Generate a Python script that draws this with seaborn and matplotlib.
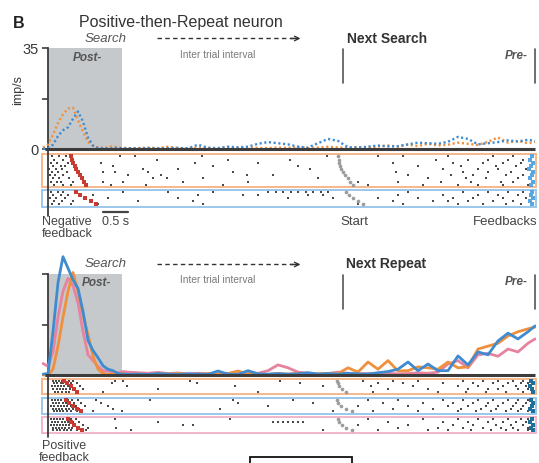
import numpy as np
import pandas as pd
import matplotlib
matplotlib.use("Agg")
import matplotlib.pyplot as plt
import matplotlib.transforms as mtransforms
from matplotlib.patches import Rectangle
from matplotlib.lines import Line2D
import seaborn as sns

sns.set_style("white")
plt.rcParams["font.family"] = ["Liberation Sans", "DejaVu Sans"]

# ---------------- firing rates (imp/s), time in s from feedback ----------------
t_rate = np.r_[-0.1, np.round(np.arange(0.0, 1.65, 0.1), 2),
               np.round(np.arange(1.8, 9.65, 0.2), 2), 9.74]

neg_orange = ([0.5] +
              [1.5, 5.0, 9.0, 12.0, 14.0, 14.3, 10.0, 6.0, 2.5, 1.0, 0.5, 0.3, 0.6, 1.0, 0.5, 0.4, 0.3] +
              [0.3, 0.5, 0.3, 0.8, 0.3, 0.2, 0.5, 0.4, 0.3, 0.6,
               0.3, 0.5, 0.4, 0.3, 0.5, 0.4, 0.6, 0.3, 0.5, 0.8,
               0.5, 0.4, 0.7, 0.5, 0.9, 1.2, 0.8, 1.5, 1.0, 1.8,
               1.2, 1.5, 2.2, 1.8, 1.4, 2.5, 4.0, 2.2, 2.8, 2.0] +
              [2.5])
neg_blue = ([0.0] +
            [0.3, 1.5, 4.5, 6.5, 7.5, 10.5, 13.0, 9.5, 4.0, 1.2, 0.4, 0.3, 0.2, 0.3, 0.4, 0.2, 0.3] +
            [0.2, 0.3, 0.2, 0.3, 0.4, 0.2, 1.5, 0.4, 0.3, 0.8,
             0.6, 0.8, 1.8, 2.4, 2.0, 1.6, 0.8, 0.5, 2.0, 3.5,
             2.8, 0.6, 0.5, 0.8, 1.2, 0.9, 1.0, 1.6, 2.2, 2.0,
             1.8, 2.5, 4.2, 3.5, 1.6, 2.0, 2.4, 3.0, 2.6, 3.2] +
            [2.8])

pos_blue = ([0.3] +
            [0.5, 15.0, 32.0, 41.0, 37.0, 33.0, 30.0, 22.0, 12.0, 8.5, 6.0, 3.2, 2.0, 1.5, 0.5, 0.3, 0.2] +
            [0.3, 0.2, 0.5, 0.3, 0.2, 0.4, 0.3, 0.2, 1.4, 0.3,
             0.2, 1.5, 0.4, 0.3, 0.5, 0.3, 0.4, 0.8, 0.3, 0.5,
             0.3, 0.6, 0.4, 0.3, 0.8, 1.2, 2.0, 4.5, 1.5, 3.8,
             1.5, 1.5, 6.6, 3.5, 8.0, 7.0, 11.8, 14.5, 12.5, 15.0] +
            [17.0])
pos_orange = ([0.0] +
              [0.0, 2.0, 10.0, 20.0, 29.0, 35.5, 29.0, 21.0, 14.0, 6.6, 2.0, 0.5, 0.2, 0.3, 0.5, 0.3, 0.2] +
              [0.3, 0.2, 0.4, 0.3, 0.5, 0.3, 0.2, 0.4, 0.3, 0.5,
               1.4, 0.3, 0.4, 0.2, 0.5, 0.3, 0.6, 0.4, 0.3, 0.5,
               0.5, 2.5, 1.0, 4.5, 2.0, 5.0, 1.4, 1.5, 2.8, 2.5,
               2.0, 4.5, 2.5, 2.8, 9.0, 10.0, 11.0, 13.5, 15.0, 16.0] +
              [16.6])
pos_pink = ([4.0] +
            [3.0, 8.0, 20.0, 29.0, 33.5, 31.0, 25.0, 15.0, 7.0, 5.0, 3.0, 1.5, 1.4, 1.0, 0.8, 1.2, 1.0] +
            [0.8, 0.6, 0.9, 0.5, 0.7, 0.4, 0.6, 0.5, 0.4, 0.6,
             0.5, 0.7, 0.6, 1.5, 3.5, 2.5, 1.0, 0.6, 0.4, 0.5,
             1.0, 0.6, 0.4, 0.5, 0.3, 0.6, 0.4, 0.5, 0.8, 0.6,
             1.0, 3.8, 5.0, 2.5, 7.0, 7.5, 6.5, 9.0, 8.0, 11.0] +
            [12.5])

# ---------------- rasters: spike times (s) per trial ----------------
neg_orange_trials = [
    [0.08, 0.22, 0.35, 1.44, 1.74, 3.08, 5.58, 6.6, 7.1, 8.0, 8.9, 9.3],
    [0.12, 0.3, 2.18, 3.6, 4.84, 7.75, 8.4, 8.8, 9.2, 9.5],
    [0.05, 0.18, 0.4, 1.05, 2.94, 4.2, 6.9, 8.1, 8.7, 9.1, 9.45],
    [0.1, 0.25, 0.33, 1.3, 3.3, 5.0, 7.4, 8.25, 8.95, 9.35],
    [0.02, 0.15, 0.28, 0.55, 1.9, 2.6, 5.24, 7.9, 8.6, 9.0, 9.55],
    [0.08, 0.2, 0.38, 1.1, 1.34, 2.0, 3.7, 6.95, 8.3, 8.8, 9.25],
    [0.04, 0.14, 0.3, 1.6, 2.25, 3.98, 4.5, 7.2, 8.05, 8.5, 9.15, 9.5],
    [0.1, 0.22, 0.42, 2.1, 2.38, 3.1, 5.4, 7.6, 8.35, 8.75, 9.4],
    [0.06, 0.18, 0.26, 0.5, 1.1, 1.5, 2.7, 4.0, 6.2, 7.0, 7.85, 8.45, 9.05, 9.3],
    [0.12, 0.3, 0.45, 1.25, 1.95, 3.5, 6.4, 7.5, 8.2, 8.6, 9.1, 9.6],
]
neg_orange_fb = [0.46, 0.48, 0.5, 0.53, 0.56, 0.6, 0.64, 0.68, 0.72, 0.76]
neg_orange_start = [5.8, 5.81, 5.82, 5.84, 5.86, 5.9, 5.94, 5.99, 6.04, 6.1]
neg_orange_next = [9.68, 9.64, 9.7, 9.66, 9.62, 9.7, 9.67, 9.64, 9.69, 9.66]

neg_blue_trials = [
    [0.05, 0.2, 0.3, 1.5, 2.4, 3.3, 4.4, 4.55, 4.7, 4.85, 5.0, 5.15, 5.3, 5.45, 5.6, 7.2, 8.3, 8.8, 9.2, 9.5],
    [0.1, 0.25, 0.4, 0.9, 3.0, 3.9, 4.2, 5.2, 5.5, 7.0, 7.9, 8.6, 9.0, 9.4],
    [0.03, 0.15, 0.33, 1.2, 2.6, 4.8, 5.7, 6.6, 7.4, 8.1, 8.5, 9.1, 9.55],
    [0.12, 0.28, 0.5, 1.8, 2.9, 6.9, 7.7, 8.0, 8.4, 8.9, 9.3],
    [0.08, 0.22, 0.45, 1.0, 3.1, 6.2, 7.1, 8.2, 8.7, 9.15, 9.45],
]
neg_blue_fb = [0.55, 0.64, 0.74, 0.85, 0.96]
neg_blue_start = [5.96, 6.02, 6.1, 6.2, 6.3]
neg_blue_next = [9.68, 9.66, 9.7, 9.64, 9.68]

pos_orange_trials = [
    [0.1, 0.16, 0.22, 0.28, 0.34, 0.42, 0.5, 1.34, 1.5, 2.84, 4.64, 6.3, 6.9, 7.4, 8.3, 8.7, 9.0, 9.3, 9.5],
    [0.12, 0.18, 0.25, 0.3, 0.38, 0.46, 0.58, 1.28, 2.98, 5.04, 6.6, 7.1, 7.9, 8.5, 8.9, 9.2, 9.45, 9.6],
    [0.08, 0.14, 0.2, 0.26, 0.32, 0.4, 0.48, 0.64, 1.58, 3.74, 5.5, 6.45, 7.3, 8.2, 8.6, 9.1, 9.35, 9.55],
    [0.1, 0.17, 0.24, 0.3, 0.36, 0.44, 0.52, 0.7, 2.2, 6.8, 7.6, 8.4, 8.8, 9.0, 9.4, 9.6],
    [0.13, 0.2, 0.27, 0.35, 0.41, 0.55, 1.1, 4.2, 6.5, 7.8, 8.35, 8.75, 9.15, 9.5],
]
pos_orange_fb = [0.32, 0.38, 0.45, 0.52, 0.58]
pos_orange_start = [5.78, 5.79, 5.82, 5.88, 5.96]
pos_orange_next = [9.66, 9.7, 9.64, 9.68, 9.7]

pos_blue_trials = [
    [0.08, 0.14, 0.2, 0.26, 0.33, 0.4, 0.48, 0.6, 0.95, 2.04, 3.7, 4.9, 6.4, 7.0, 7.9, 8.3, 8.6, 8.9, 9.2, 9.4, 9.6],
    [0.1, 0.16, 0.22, 0.3, 0.36, 0.44, 0.52, 0.66, 1.05, 3.8, 5.3, 6.7, 7.5, 8.1, 8.5, 8.8, 9.1, 9.35, 9.55],
    [0.06, 0.12, 0.19, 0.25, 0.31, 0.38, 0.46, 0.56, 0.74, 1.2, 4.4, 6.2, 7.2, 8.0, 8.4, 8.75, 9.0, 9.3, 9.5],
    [0.09, 0.15, 0.21, 0.28, 0.35, 0.42, 0.5, 0.62, 1.3, 3.44, 6.9, 7.7, 8.25, 8.65, 8.95, 9.25, 9.45, 9.62],
    [0.11, 0.18, 0.24, 0.3, 0.37, 0.45, 0.58, 0.9, 1.48, 5.7, 6.5, 7.4, 8.2, 8.55, 8.85, 9.15, 9.4, 9.6],
]
pos_blue_fb = [0.36, 0.42, 0.5, 0.58, 0.66]
pos_blue_start = [5.78, 5.8, 5.86, 5.96, 6.08]
pos_blue_next = [9.66, 9.7, 9.68, 9.64, 9.7]

pos_pink_trials = [
    [0.05, 0.12, 0.18, 0.24, 0.3, 0.37, 0.45, 0.55, 1.34, 3.64, 6.4, 7.5, 8.2, 8.6, 8.9, 9.2, 9.45, 9.6],
    [0.08, 0.14, 0.2, 0.27, 0.33, 0.4, 0.5, 0.62, 2.2, 4.5, 4.6, 4.7, 4.8, 4.9, 5.0, 5.1, 6.8, 7.9, 8.4, 8.8, 9.1, 9.35, 9.55],
    [0.06, 0.11, 0.17, 0.23, 0.29, 0.35, 0.42, 0.52, 0.7, 2.7, 2.9, 6.2, 7.2, 8.1, 8.5, 8.95, 9.25, 9.5],
    [0.09, 0.16, 0.22, 0.28, 0.34, 0.41, 0.48, 0.6, 0.8, 1.36, 7.0, 7.8, 8.3, 8.7, 9.05, 9.3, 9.6],
    [0.1, 0.17, 0.24, 0.31, 0.38, 0.46, 0.58, 0.75, 1.66, 5.5, 6.6, 7.6, 8.0, 8.45, 8.85, 9.15, 9.4, 9.6],
]
pos_pink_fb = [0.4, 0.46, 0.52, 0.6, 0.68]
pos_pink_start = [5.8, 5.82, 5.88, 5.96, 6.08]
pos_pink_next = [9.68, 9.64, 9.7, 9.66, 9.7]

# ---------------- styling ----------------
C_ORANGE = "#f0903c"
C_BLUE = "#3f8bd0"
C_PINK = "#e7829f"
BOX_ORANGE = "#f6b88a"
BOX_BLUE = "#9cc6ea"
BOX_PINK = "#f2b6c9"
C_AXIS = "#3c3c3c"
C_TEXT = "#3a3a3a"
C_SHADE = "#c6c9cb"

W, H = 539, 464
fig = plt.figure(figsize=(W / 100, H / 100), dpi=100)

T0_PX, PX_PER_S = 48, 50.0
X_LEFT, X_RIGHT = 42, 536
XLIM = ((X_LEFT - T0_PX) / PX_PER_S, (X_RIGHT - T0_PX) / PX_PER_S)
PX_PER_UNIT = 101 / 35.0
YMIN, YMAX = -1.0, 45.0


def fx(x):
    return x / W


def fy(y):
    return 1 - y / H


def axes_px(left, top, right, bottom):
    return fig.add_axes([fx(left), fy(bottom), (right - left) / W, (bottom - top) / H])


def rate_panel(zero_px, series, dotted, show_labels):
    top = zero_px - YMAX * PX_PER_UNIT
    bottom = zero_px - YMIN * PX_PER_UNIT
    ax = axes_px(X_LEFT, top, X_RIGHT, bottom)
    ax.set_facecolor("none")
    ax.set_xlim(*XLIM)
    ax.set_ylim(YMIN, YMAX)
    # Post-feedback window
    ax.fill_between([0, 1.48], 0, 35, color=C_SHADE, lw=0, zorder=0)
    for vals, col in series:
        if dotted:
            sns.lineplot(x=t_rate, y=vals, ax=ax, color=col, lw=1.7,
                         linestyle=(0, (0.9, 1.1)), estimator=None, sort=False, zorder=3)
        else:
            sns.lineplot(x=t_rate, y=vals, ax=ax, color=col, lw=2.0,
                         estimator=None, sort=False, zorder=3)
    ax.plot([-0.06, 9.74], [0, 0], color=C_AXIS, lw=2.2, zorder=4, solid_capstyle="butt")
    for s in ["top", "right", "bottom"]:
        ax.spines[s].set_visible(False)
    ax.spines["left"].set_position(("data", 0))
    ax.spines["left"].set_bounds(0, 35)
    ax.spines["left"].set_color(C_AXIS)
    ax.spines["left"].set_linewidth(1.3)
    ax.set_xticks([])
    ax.set_yticks([0, 17.5, 35])
    ax.set_yticklabels(["0", "", "35"] if show_labels else ["", "", ""])
    ax.tick_params(axis="y", direction="out", length=4, width=1.2, color=C_AXIS,
                   labelsize=10.5, labelcolor=C_TEXT, pad=3, left=True)
    ax.set_xlabel("")
    ax.set_ylabel("")
    if ax.get_legend():
        ax.get_legend().remove()
    # event lines for next trial onset and pre-feedback
    for tx in (5.9, 9.74):
        ax.plot([tx, tx], [23.0, 34.6], color="#555555", lw=1.2, zorder=4)
    # dashed inter-trial arrow
    ax.plot([2.18, 4.95], [38.3, 38.3], color="#333333", lw=1.0, linestyle=(0, (3.2, 2.4)))
    ax.annotate("", xy=(5.05, 38.3), xytext=(4.85, 38.3),
                arrowprops=dict(arrowstyle="->", color="#333333", lw=1.0,
                                shrinkA=0, shrinkB=0, mutation_scale=8))
    return ax


def raster_box(top, bottom, trials, fb, start, nxt, edge, nxt_color, dot_size):
    ax = axes_px(X_LEFT, top, X_RIGHT, bottom)
    rows = []
    for i, spikes in enumerate(trials):
        for s in spikes:
            rows.append((s, i))
    df = pd.DataFrame(rows, columns=["t", "trial"])
    n = len(trials)
    sns.scatterplot(data=df, x="t", y="trial", ax=ax, color="#4a4a4a", s=dot_size,
                    marker="s", linewidth=0, zorder=3)
    idx = list(range(n))
    ax.scatter(fb, idx, s=6, marker="s", color="#c83a32", linewidths=0, zorder=4)
    ax.scatter(start, idx, s=7, marker="o", color="#9c9c9c", linewidths=0, zorder=4)
    ax.scatter(nxt, idx, s=6, marker="s", color=nxt_color, linewidths=0, zorder=4)
    ax.set_xlim(*XLIM)
    ax.set_ylim(n - 0.5 + 0.25, -0.5 - 0.25)
    ax.set_xticks([])
    ax.set_yticks([])
    ax.set_xlabel("")
    ax.set_ylabel("")
    for s in ax.spines.values():
        s.set_color(edge)
        s.set_linewidth(1.4)
    return ax


# ---------------- top panel: negative feedback ----------------
ax_top = rate_panel(150, [(neg_orange, C_ORANGE), (neg_blue, C_BLUE)], dotted=True, show_labels=True)
raster_box(155, 188, neg_orange_trials, neg_orange_fb, neg_orange_start, neg_orange_next,
           BOX_ORANGE, "#5aa6e0", 2)
raster_box(190.5, 207.5, neg_blue_trials, neg_blue_fb, neg_blue_start, neg_blue_next,
           BOX_BLUE, "#5aa6e0", 2)

# ---------------- bottom panel: positive feedback ----------------
ax_bot = rate_panel(376, [(pos_pink, C_PINK), (pos_orange, C_ORANGE), (pos_blue, C_BLUE)],
                    dotted=False, show_labels=False)
raster_box(379.5, 395, pos_orange_trials, pos_orange_fb, pos_orange_start, pos_orange_next,
           BOX_ORANGE, "#1f6f9c", 3)
raster_box(399, 414.5, pos_blue_trials, pos_blue_fb, pos_blue_start, pos_blue_next,
           BOX_BLUE, "#1f6f9c", 3)
raster_box(418, 433.5, pos_pink_trials, pos_pink_fb, pos_pink_start, pos_pink_next,
           BOX_PINK, "#1f6f9c", 3)

# alignment line at feedback running through the rasters, and the scale bar
for ax, y0, y1 in ((ax_top, 150, 217), (ax_bot, 376, 438)):
    tr = mtransforms.blended_transform_factory(ax.transData, fig.transFigure)
    fig.add_artist(Line2D([0, 0], [fy(y0), fy(y1)], transform=tr, color=C_AXIS, lw=1.3))
tr = mtransforms.blended_transform_factory(ax_top.transData, fig.transFigure)
fig.add_artist(Line2D([1.1, 1.6], [fy(212.5), fy(212.5)], transform=tr, color="#444444", lw=1.6))

# ---------------- text ----------------
def txt(x, y, s, **kw):
    kw.setdefault("color", C_TEXT)
    fig.text(fx(x), fy(y), s, **kw)


txt(13, 23, "B", fontsize=11.5, fontweight="bold", ha="left", va="center", color="#222222")
txt(181, 22, "Positive-then-Repeat neuron", fontsize=11.5, ha="center", va="center", color="#333333")
txt(18, 90, "imp/s", fontsize=9, rotation=90, ha="center", va="center")

for dy in (0, 225):
    txt(106, 39 + dy, "Search", fontsize=9.5, style="italic", ha="center", va="center", color="#555555")
    txt(218, 55 + dy, "Inter trial interval", fontsize=7.3, ha="center", va="center", color="#7a7a7a")
    txt(516, 57 + dy if dy else 56, "Pre-", fontsize=8.5, style="italic", fontweight="bold",
        ha="center", va="center", color="#555555")
txt(87, 58, "Post-", fontsize=8.5, style="italic", fontweight="bold", ha="center", va="center", color="#555555")
txt(96, 283, "Post-", fontsize=8.5, style="italic", fontweight="bold", ha="center", va="center", color="#555555")
txt(347, 39, "Next Search", fontsize=10, fontweight="bold", ha="left", va="center", color="#333333")
txt(346, 264, "Next Repeat", fontsize=10, fontweight="bold", ha="left", va="center", color="#333333")

txt(42, 216, "Negative\nfeedback", fontsize=9, ha="left", va="top", linespacing=1.05, color="#444444")
txt(116, 222, "0.5 s", fontsize=9, ha="center", va="center", color="#444444")
txt(354, 222, "Start", fontsize=9.5, ha="center", va="center", color="#444444")
txt(538, 222, "Feedbacks", fontsize=9.5, ha="right", va="center", color="#444444")
txt(64, 440, "Positive\nfeedback", fontsize=9, ha="center", va="top", linespacing=1.0, color="#444444")

fig.add_artist(Rectangle((fx(250), fy(470)), (352 - 250) / W, (470 - 458) / H,
                         transform=fig.transFigure, fill=False, ec="#111111", lw=1.3))

fig.savefig("out.png", dpi=100, facecolor="white")
